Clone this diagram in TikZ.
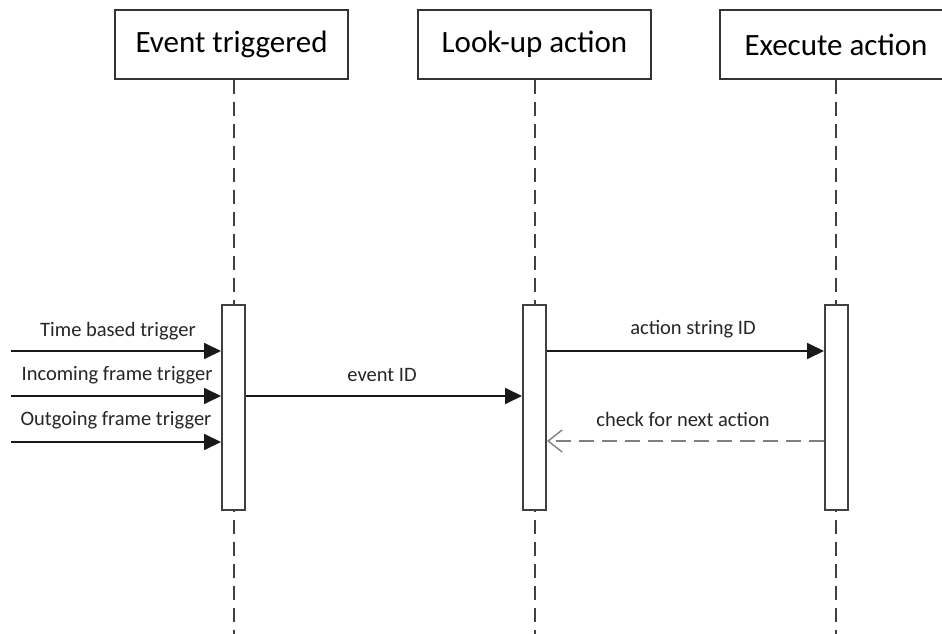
\documentclass[tikz,border=0pt]{standalone}
\usepackage{fontspec}
\setmainfont{Carlito}
\usetikzlibrary{arrows.meta}
\begin{document}
\begin{tikzpicture}[x=1pt,y=-1pt,
  header/.style={draw=black!80, line width=2pt, fill=white, minimum width=233pt,
    minimum height=68pt, inner sep=0pt, font=\fontsize{31}{36}\selectfont},
  activation/.style={draw=black!75, line width=2pt, fill=white, minimum width=23pt,
    minimum height=205pt, inner sep=0pt},
  lifeline/.style={draw=black!75, line width=2pt, dash pattern=on 14pt off 8pt},
  msg/.style={draw=black!90, line width=1.8pt, -{Triangle[length=17pt,width=16pt]}},
  reply/.style={draw=black!50, line width=2.4pt, dash pattern=on 15pt off 8pt,
    -{Straight Barb[length=14pt,width=22pt,line width=1.4pt]}},
  lbl/.style={font=\fontsize{20.5}{24}\selectfont, text=black!85, inner sep=0pt}
]
\useasboundingbox (0,0) rectangle (942,634);
\clip (0,0) rectangle (942,634);
\fill[white] (0,0) rectangle (942,634);

% participants
\node[header] (h1) at (231.5,44.5) {Event triggered};
\node[header] (h2) at (534.5,44.5) {Look-up action};
\node[header] (h3) at (836,44.5) {Execute action};

% lifeline ends
\coordinate (e1) at (233.5,634);
\coordinate (e2) at (534.5,634);
\coordinate (e3) at (836,634);
\draw[lifeline] (h1.south -| e1) -- (e1);
\draw[lifeline] (h2.south -| e2) -- (e2);
\draw[lifeline] (h3.south -| e3) -- (e3);

% activation bars
\node[activation] (a1) at (233.5,407.5) {};
\node[activation] (a2) at (534.5,407.5) {};
\node[activation] (a3) at (836.5,407.5) {};

% incoming triggers
\coordinate (t1) at (11,351);
\coordinate (t2) at (11,396);
\coordinate (t3) at (11,442);
\draw[msg] (t1) -- (t1 -| a1.west);
\draw[msg] (t2) -- (t2 -| a1.west);
\draw[msg] (t3) -- (t3 -| a1.west);
\node[lbl] (l1) at (118,331) {Time based trigger};
\node[lbl] (l2) at (117,375) {Incoming frame trigger};
\node[lbl] (l3) at (116,420) {Outgoing frame trigger};

% messages between lifelines
\coordinate (m1) at (0,396);
\coordinate (m2) at (0,351);
\coordinate (m3) at (0,441);
\draw[msg] (m1 -| a1.east) -- (m1 -| a2.west);
\node[lbl] (l4) at (382,375) {event ID};
\draw[msg] (m2 -| a2.east) -- (m2 -| a3.west);
\node[lbl] (l5) at (693,329) {action string ID};
\draw[reply] (m3 -| a3.west) -- (m3 -| a2.east);
\node[lbl] (l6) at (683,419) {check for next action};
\end{tikzpicture}
\end{document}
